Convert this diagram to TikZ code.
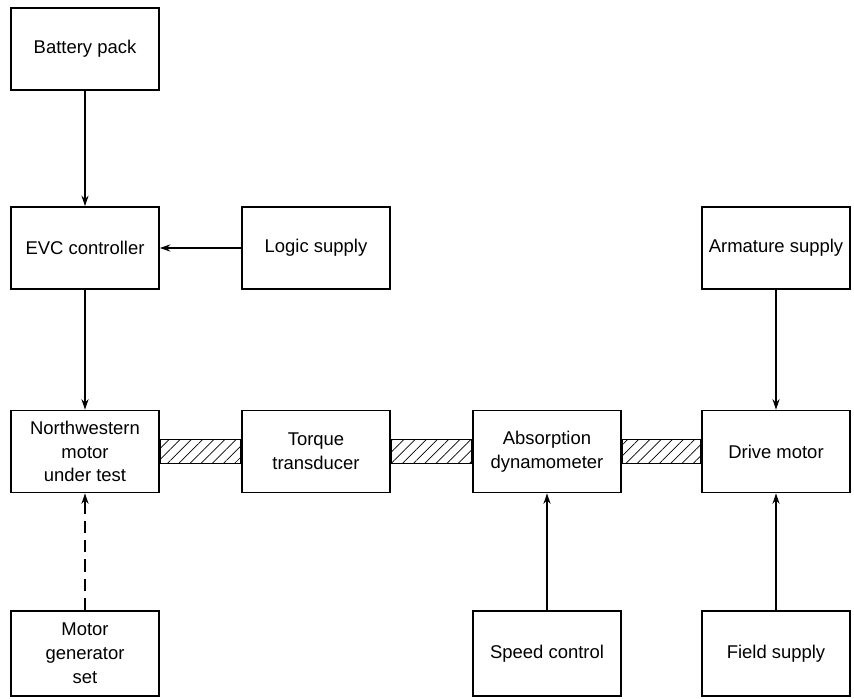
\documentclass[tikz,border=0pt]{standalone}
\usepackage{fontspec}
\setmainfont{Liberation Sans}
\usetikzlibrary{arrows.meta,patterns.meta}
\tikzset{
	blk/.style={draw, line width=0.9pt, minimum width=2.96cm, minimum height=1.64cm, inner sep=1pt, align=center, font=\fontsize{10.5}{13.6}\selectfont},
	feed/.style={line width=0.7pt, -{Stealth[length=6pt,width=4pt]}},
	shaft/.style={line width=0.9pt, pattern={Lines[angle=45,distance=4.5pt,line width=0.4pt]}},
}

\begin{document}
\begin{tikzpicture}
			%%%%% START %%%%%
			\useasboundingbox (0, 0) rectangle (17.08, 13.96);
			
			\node[blk] (bat) at (1.7, 12.98) {Battery pack};
			
			\node[blk] (evc) at (1.7, 9.0) {EVC controller};
			\node[blk] (logic) at (6.32, 9.0) {Logic supply};
			\node[blk] (arm) at (15.52, 9.0) {Armature supply};
			
			\node[blk] (nwm) at (1.7, 4.93) {Northwestern\\motor\\under test};
			\node[blk] (tq) at (6.32, 4.93) {Torque\\transducer};
			\node[blk] (abs) at (10.94, 4.93) {Absorption\\dynamometer};
			\node[blk] (drv) at (15.52, 4.93) {Drive motor};
			
			\node[blk, minimum height=1.7cm] (mgs) at (1.7, 0.89) {Motor\\generator\\set};
			\node[blk, minimum height=1.7cm] (spd) at (10.94, 0.89) {Speed control};
			\node[blk, minimum height=1.7cm] (fld) at (15.52, 0.89) {Field supply};
			
			% shafts
			\draw[shaft] ([yshift=0.24cm]nwm.east) rectangle ([yshift=-0.24cm]tq.west);
			\draw[shaft] ([yshift=0.24cm]tq.east) rectangle ([yshift=-0.24cm]abs.west);
			\draw[shaft] ([yshift=0.24cm]abs.east) rectangle ([yshift=-0.24cm]drv.west);
			
			\draw[feed] (bat) -- (evc);
			\draw[feed, line width=1.1pt] (logic) -- (evc);
			\draw[feed] (evc) -- (nwm);
			\draw[feed] (arm) -- (drv);
			
			\draw[feed, dash pattern=on 7pt off 4pt] (mgs) -- (nwm);
			\draw[feed] (spd) -- (abs);
			\draw[feed] (fld) -- (drv);
			
			%%%%% END %%%%%
\end{tikzpicture}
\end{document}
